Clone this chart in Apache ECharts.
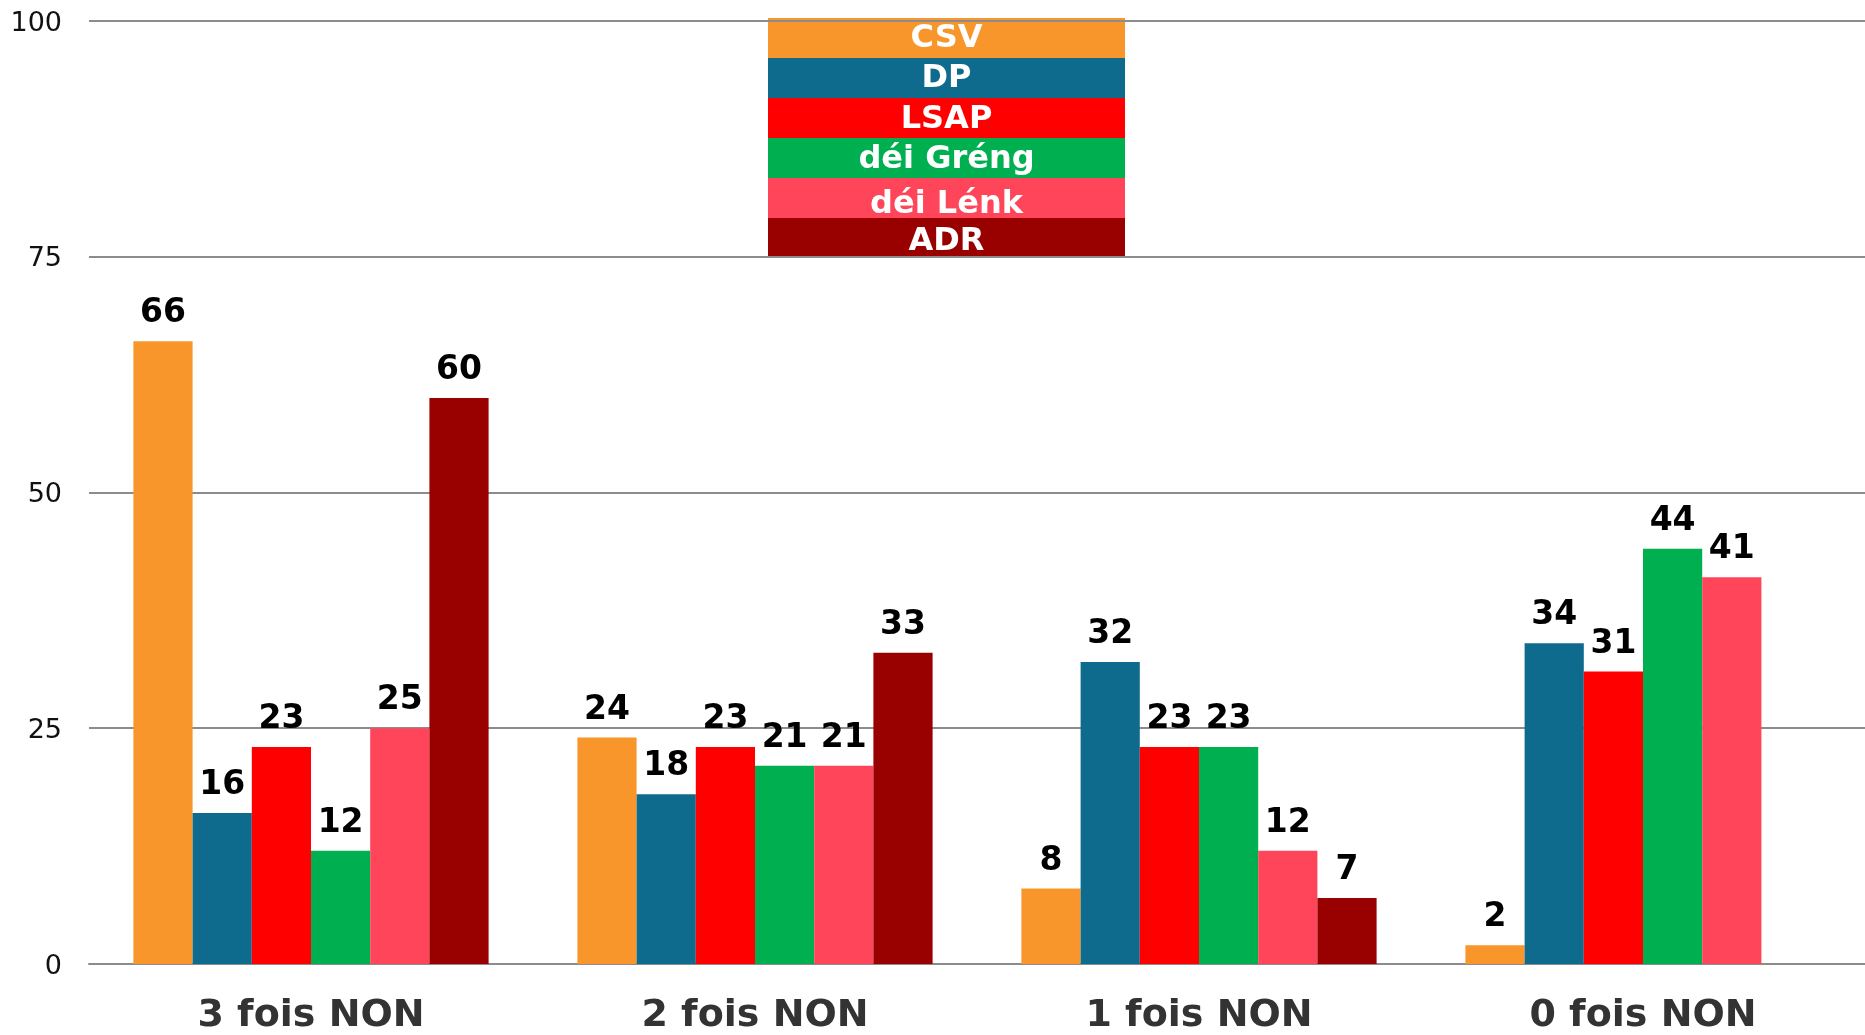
<!DOCTYPE html>
<html>
<head>
<meta charset="utf-8">
<title>Vote NON par parti</title>
<script src="https://cdn.jsdelivr.net/npm/echarts@6/dist/echarts.min.js"></script>
<style>
  html, body { margin: 0; padding: 0; background: #ffffff; }
  #chart { width: 1865px; height: 1035px; }
</style>
</head>
<body>
<div id="chart"></div>
<script>
// Categories: how many times voters answered NON
const categories = ['3 fois NON', '2 fois NON', '1 fois NON', '0 fois NON'];

// Parties and their colours
const parties = ['CSV', 'DP', 'LSAP', 'déi Gréng', 'déi Lénk', 'ADR'];
const partyColors = ['#F8962C', '#0F6B8D', '#FF0000', '#00AF50', '#FF4559', '#990000'];

// Share (%) per party for each category
const csv = [66, 24, 8, 2];
const dp = [16, 18, 32, 34];
const lsap = [23, 23, 23, 31];
const deiGreng = [12, 21, 23, 44];
const deiLenk = [25, 21, 12, 41];
const adr = [60, 33, 7, '-'];

// Value axis ticks
const yTicks = [0, 25, 50, 75, 100];

const seriesValues = [csv, dp, lsap, deiGreng, deiLenk, adr];
const FONT = '"DejaVu Sans", Verdana, sans-serif';

const chart = echarts.init(document.getElementById('chart'), null, { renderer: 'canvas' });

// Stacked colour blocks acting as the legend, one row per party
const legendLeft = 768, legendTop = 18, legendW = 357, legendRowH = 40;
const legendTextShift = [1, 1, 2, 2, 7, 4];
const legendBlocks = parties.map((name, i) => ({
  type: 'group',
  left: legendLeft,
  top: legendTop + i * legendRowH,
  children: [
    {
      type: 'rect',
      shape: { x: 0, y: 0, width: legendW, height: legendRowH },
      style: { fill: partyColors[i] }
    },
    {
      type: 'text',
      x: legendW / 2,
      y: legendRowH / 2 + legendTextShift[i],
      style: {
        text: name,
        fill: '#ffffff',
        font: 'bold 32px ' + FONT,
        align: 'center',
        verticalAlign: 'middle'
      }
    }
  ]
}));

const option = {
  animation: false,
  backgroundColor: '#ffffff',
  textStyle: { fontFamily: FONT },
  grid: { left: 89, right: 0, top: 20.5, bottom: 69.5, containLabel: false },
  xAxis: {
    type: 'category',
    data: categories,
    axisLine: { show: true, lineStyle: { color: '#8C8C8C', width: 2 } },
    axisTick: { show: false },
    axisLabel: {
      color: '#333333',
      fontSize: 38,
      fontWeight: 'bold',
      fontFamily: FONT,
      margin: 33
    }
  },
  yAxis: {
    type: 'value',
    min: yTicks[0],
    max: yTicks[yTicks.length - 1],
    interval: yTicks[1] - yTicks[0],
    axisLine: { show: false },
    axisTick: { show: false },
    splitLine: { show: true, lineStyle: { color: '#8C8C8C', width: 2 } },
    axisLabel: {
      margin: 27,
      formatter: '{t|{value}}',
      rich: {
        t: {
          color: '#111111',
          fontSize: 27,
          fontFamily: FONT,
          padding: [6, 0, 0, 0]
        }
      }
    }
  },
  series: parties.map((name, i) => ({
    name: name,
    type: 'bar',
    data: seriesValues[i],
    barGap: '0%',
    barCategoryGap: '20%',
    itemStyle: { color: partyColors[i] },
    label: {
      show: true,
      position: 'top',
      distance: 11,
      color: '#000000',
      fontSize: 33,
      fontWeight: 'bold',
      fontFamily: FONT
    }
  })),
  graphic: legendBlocks
};

chart.setOption(option);
</script>
</body>
</html>
